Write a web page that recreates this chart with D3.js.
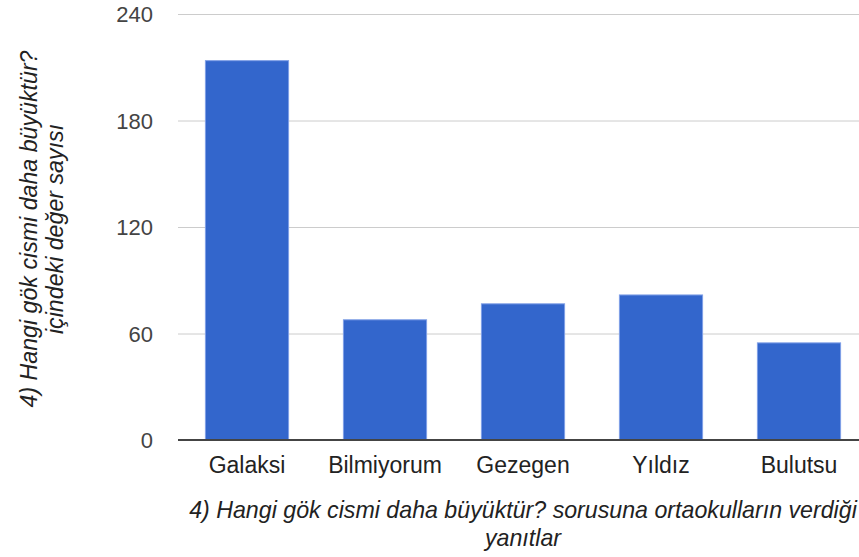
<!DOCTYPE html>
<html>
<head>
    <meta charset="utf-8">
    <style>
        body { margin: 0; background: #fff; }
        svg { display: block; }
        text { font-family: Arial, "Liberation Sans", sans-serif; }
        .y .tick text { font-size: 22px; fill: #444; }
        .x .tick text { font-size: 23px; fill: #222; }
        .domain { display: none; }
        .y .tick line { stroke: #cccccc; }
        .x .tick line { display: none; }
        .axis-title { font-size: 23.2px; font-style: italic; fill: #222; text-anchor: middle; }
    </style>
</head>
<body>
<svg width="859" height="557"></svg>

<script src="https://d3js.org/d3.v7.min.js"></script>
<script>
    // answers to "4) Hangi gök cismi daha büyüktür?"
    let categories = ["Galaksi", "Bilmiyorum", "Gezegen", "Yıldız", "Bulutsu"];
    let counts = [214, 68, 77, 82, 55];
    let yTicks = [0, 60, 120, 180, 240];

    let svg = d3.select("svg");

    let plot = { left: 178, right: 868, top: 14, bottom: 440 };

    let x = d3.scaleBand()
        .domain(categories)
        .range([plot.left, plot.right])
        .paddingInner(0.39)
        .paddingOuter(0.195);

    let y = d3.scaleLinear()
        .domain([0, 240])
        .range([plot.bottom, plot.top]);

    // gridlines + y labels
    svg.append("g")
        .attr("class", "y axis")
        .attr("transform", `translate(${plot.left},0)`)
        .call(d3.axisLeft(y)
            .tickValues(yTicks)
            .tickSize(-(plot.right - plot.left))
            .tickPadding(25)
            .tickFormat(d3.format("d")))
        .call(g => g.selectAll(".tick text").attr("dy", "0.36em"));

    svg.append("g")
        .attr("class", "bars")
        .selectAll("rect")
        .data(counts)
        .join("rect")
        .attr("x", (d, i) => x(categories[i]) + 0.5)
        .attr("width", x.bandwidth() - 1)
        .attr("y", d => y(d) + 0.5)
        .attr("height", d => y(0) - y(d) - 0.5)
        .attr("fill", "#3366cc")
        .attr("stroke", "#7f9fe6")
        .attr("stroke-width", 1);

    // baseline
    svg.append("line")
        .attr("x1", plot.left)
        .attr("x2", plot.right)
        .attr("y1", y(0))
        .attr("y2", y(0))
        .attr("stroke", "#444")
        .attr("stroke-width", 2);

    svg.append("g")
        .attr("class", "x axis")
        .attr("transform", `translate(0,${plot.bottom})`)
        .call(d3.axisBottom(x).tickSize(0).tickPadding(17));

    let cx = (plot.left + plot.right) / 2;
    let xTitle = svg.append("text")
        .attr("class", "axis-title")
        .attr("x", cx)
        .attr("y", 518);
    xTitle.append("tspan").attr("x", cx).text("4) Hangi gök cismi daha büyüktür? sorusuna ortaokulların verdiği");
    xTitle.append("tspan").attr("x", cx).attr("dy", 28).text("yanıtlar");

    let cy = 229;
    let yTitle = svg.append("text")
        .attr("class", "axis-title")
        .attr("transform", `translate(37,${cy}) rotate(-90)`);
    yTitle.append("tspan").attr("x", 0).attr("y", 0).text("4) Hangi gök cismi daha büyüktür?");
    yTitle.append("tspan").attr("x", 0).attr("y", 26).text("içindeki değer sayısı");
</script>
</body>
</html>
